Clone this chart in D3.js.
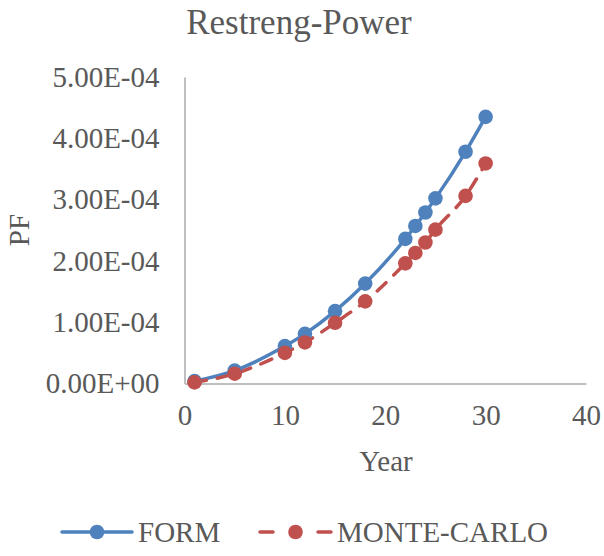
<!DOCTYPE html>
<html><head><meta charset="utf-8">
<script src="https://cdn.jsdelivr.net/npm/d3@7"></script>
<style>body{margin:0;background:#fff}svg{display:block}text{font-family:"Liberation Serif","Times New Roman",serif;fill:#595959}</style>
</head><body><svg id="c" width="604" height="556"></svg>
<script>
const years = [1, 5, 10, 12, 15, 18, 22, 23, 24, 25, 28, 30];
const formPF = [3.8e-6, 2.1e-5, 6.1e-5, 8.1e-5, 1.18e-4, 1.63e-4, 2.36e-4, 2.57e-4, 2.79e-4, 3.02e-4, 3.78e-4, 4.35e-4];
const mcPF = [1.8e-6, 1.6e-5, 5.0e-5, 6.7e-5, 9.9e-5, 1.34e-4, 1.96e-4, 2.13e-4, 2.30e-4, 2.51e-4, 3.06e-4, 3.59e-4];
const xTicks = [0, 10, 20, 30, 40];
const yTicks = [0, 1e-4, 2e-4, 3e-4, 4e-4, 5e-4];
const seriesNames = ["FORM", "MONTE-CARLO"];
const colors = ["#4F81BD", "#C0504D"];

const svg = d3.select("#c");
const x = d3.scaleLinear().domain([0, 40]).range([184.5, 586]);
const y = d3.scaleLinear().domain([0, 5e-4]).range([383.5, 77]);

const fmt = v => {
  if (v === 0) return "0.00E+00";
  const e = Math.floor(Math.log10(v));
  const m = v / Math.pow(10, e);
  return m.toFixed(2) + "E" + (e < 0 ? "-" : "+") + String(Math.abs(e)).padStart(2, "0");
};

// axes
const yAxis = svg.append("g").attr("transform", `translate(${x(0)},0)`)
  .call(d3.axisLeft(y).tickValues(yTicks).tickFormat(fmt).tickSize(0).tickPadding(25));
const xAxis = svg.append("g").attr("transform", `translate(0,${y(0)})`)
  .call(d3.axisBottom(x).tickValues(xTicks).tickFormat(d3.format("d")).tickSize(0).tickPadding(21));
[yAxis, xAxis].forEach(g => {
  g.select(".domain").attr("stroke", "#BFBFBF").attr("stroke-width", 2);
  g.selectAll("text").attr("font-size", 29).attr("fill", "#595959")
    .style("font-family", '"Liberation Serif","Times New Roman",serif');
});

// lines
const data = [formPF, mcPF];
const line = d3.line().x((d, i) => x(years[i])).y(d => y(d)).curve(d3.curveMonotoneX);
data.forEach((vals, k) => {
  svg.append("path").datum(vals).attr("d", line).attr("fill", "none")
    .attr("stroke", colors[k]).attr("stroke-width", 3.5)
    .attr("stroke-linecap", "round")
    .attr("stroke-dasharray", k === 1 ? "12,11" : null);
});
data.forEach((vals, k) => {
  svg.append("g").selectAll("circle").data(vals).join("circle")
    .attr("cx", (d, i) => x(years[i])).attr("cy", d => y(d)).attr("r", 7.3)
    .attr("fill", colors[k]);
});

// title and axis titles
svg.append("text").attr("x", 299).attr("y", 34).attr("text-anchor", "middle")
  .attr("font-size", 35).text("Restreng-Power");
svg.append("text").attr("x", 386).attr("y", 471).attr("text-anchor", "middle")
  .attr("font-size", 29).text("Year");
svg.append("text").attr("transform", "translate(29,230) rotate(-90)").attr("text-anchor", "middle")
  .attr("font-size", 29).text("PF");

// legend
const legY = 532;
const leg = [{x0: 62, x1: 132, tx: 138}, {x0: 260, x1: 331, tx: 337}];
leg.forEach((l, k) => {
  const g = svg.append("g");
  if (k === 0) {
    g.append("line").attr("x1", l.x0).attr("x2", l.x1).attr("y1", legY).attr("y2", legY)
      .attr("stroke", colors[k]).attr("stroke-width", 3.5).attr("stroke-linecap", "round");
  } else {
    g.append("line").attr("x1", l.x0).attr("x2", l.x0 + 13).attr("y1", legY).attr("y2", legY)
      .attr("stroke", colors[k]).attr("stroke-width", 3.5).attr("stroke-linecap", "round");
    g.append("line").attr("x1", l.x1 - 13).attr("x2", l.x1).attr("y1", legY).attr("y2", legY)
      .attr("stroke", colors[k]).attr("stroke-width", 3.5).attr("stroke-linecap", "round");
  }
  g.append("circle").attr("cx", (l.x0 + l.x1) / 2).attr("cy", legY).attr("r", 7.3).attr("fill", colors[k]);
  g.append("text").attr("x", l.tx).attr("y", legY + 10).attr("font-size", 29).text(seriesNames[k]);
});
</script></body></html>
